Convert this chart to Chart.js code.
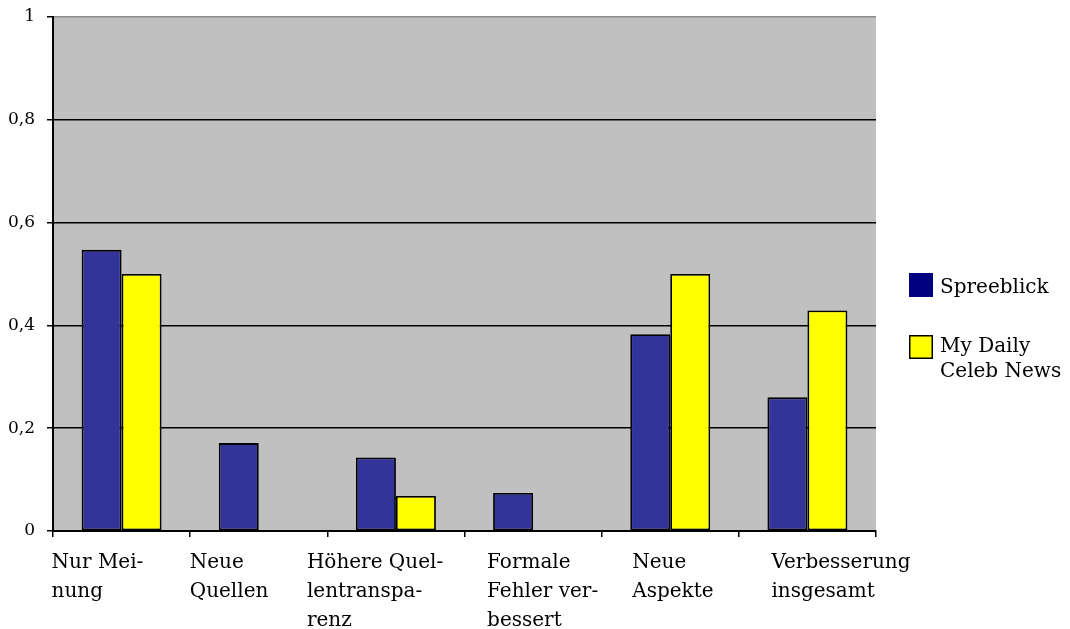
<!DOCTYPE html>
<html>
<head>
<meta charset="utf-8">
<script src="https://cdn.jsdelivr.net/npm/chart.js@4/dist/chart.umd.min.js"></script>
<style>
  html, body { margin: 0; padding: 0; background: #ffffff; }
  #wrap { position: relative; width: 1070px; height: 629px; }
</style>
</head>
<body>
<div id="wrap"><canvas id="chart"></canvas></div>
<script>
// Categories (line breaks as hyphenated in the labels)
const categories = [
  ['Nur Mei-', 'nung'],
  ['Neue', 'Quellen'],
  ['Höhere Quel-', 'lentranspa-', 'renz'],
  ['Formale', 'Fehler ver-', 'bessert'],
  ['Neue', 'Aspekte'],
  ['Verbesserung', 'insgesamt']
];

const seriesNames = ['Spreeblick', 'My Daily Celeb News'];

const spreeblick = [0.547, 0.171, 0.143, 0.074, 0.383, 0.26];
const myDailyCelebNews = [0.5, 0, 0.068, 0, 0.5, 0.429];

const yTickLabels = ['0', '0,2', '0,4', '0,6', '0,8', '1'];

const FONT = '"DejaVu Serif", "Liberation Serif", serif';

// Gray plot background
const plotBackground = {
  id: 'plotBackground',
  beforeDraw(chart) {
    const { ctx, chartArea: a } = chart;
    ctx.save();
    ctx.fillStyle = '#C0C0C0';
    ctx.fillRect(a.left, a.top, a.right - a.left, a.bottom - a.top);
    ctx.restore();
  }
};

// Multi-line category labels, left aligned under each group
const labelShift = [-70, -69, -89, -46, -38, -36];
const categoryLabels = {
  id: 'categoryLabels',
  afterDraw(chart) {
    const { ctx } = chart;
    const xs = chart.scales.x;
    const top = chart.chartArea.bottom;
    ctx.save();
    ctx.font = '20px ' + FONT;
    ctx.fillStyle = '#000';
    ctx.textAlign = 'left';
    ctx.textBaseline = 'alphabetic';
    chart.data.labels.forEach((lines, i) => {
      const x = xs.getPixelForValue(i) + labelShift[i];
      lines.forEach((line, k) => {
        ctx.fillText(line, x, top + 37 + k * 29);
      });
    });
    ctx.restore();
  }
};

// Legend on the right, with wrapped labels
const sideLegend = {
  id: 'sideLegend',
  afterDraw(chart) {
    const { ctx } = chart;
    const x0 = chart.chartArea.right + 33;
    const tops = [273, 335];
    const swatch = ['#000080', '#FFFF00'];
    ctx.save();
    ctx.font = '20px ' + FONT;
    ctx.textAlign = 'left';
    ctx.textBaseline = 'alphabetic';
    chart.data.datasets.forEach((ds, i) => {
      const y = tops[i];
      ctx.fillStyle = swatch[i];
      ctx.fillRect(x0, y, 24, 24);
      if (i === 1) {
        ctx.strokeStyle = '#000';
        ctx.lineWidth = 1.5;
        ctx.strokeRect(x0 + 0.75, y + 0.75, 22.5, 22.5);
      }
      // word wrap
      const words = ds.label.split(' ');
      const lines = [];
      let cur = '';
      words.forEach(w => {
        const t = cur ? cur + ' ' + w : w;
        if (ctx.measureText(t).width > 128 && cur) { lines.push(cur); cur = w; }
        else cur = t;
      });
      lines.push(cur);
      ctx.fillStyle = '#000';
      const base = lines.length > 1 ? y + 17 : y + 20;
      lines.forEach((l, k) => ctx.fillText(l, x0 + 31, base + k * 25));
    });
    ctx.restore();
  }
};

new Chart(document.getElementById('chart'), {
  type: 'bar',
  data: {
    labels: categories,
    datasets: [
      {
        label: seriesNames[0],
        data: spreeblick,
        backgroundColor: '#333399',
        borderColor: '#000',
        borderWidth: 1.8,
        borderSkipped: false
      },
      {
        label: seriesNames[1],
        data: myDailyCelebNews,
        backgroundColor: '#FFFF00',
        borderColor: '#000',
        borderWidth: 1.8,
        borderSkipped: false
      }
    ]
  },
  options: {
    responsive: true,
    maintainAspectRatio: false,
    animation: false,
    devicePixelRatio: 1,
    categoryPercentage: 0.583,
    barPercentage: 1,
    layout: { padding: { top: 17, right: 194, left: 0, bottom: 0 } },
    plugins: {
      legend: { display: false },
      tooltip: { enabled: false }
    },
    scales: {
      x: {
        grid: {
          offset: true,
          drawOnChartArea: false,
          color: '#000',
          tickLength: 6,
          lineWidth: 1.5
        },
        border: { color: '#000', width: 2 },
        ticks: { display: false },
        afterFit(scale) { scale.height = 98; }
      },
      y: {
        min: 0,
        max: 1,
        ticks: {
          stepSize: 0.2,
          padding: 12,
          color: '#000',
          font: { family: FONT, size: 17 },
          callback: (v, i) => yTickLabels[i]
        },
        grid: {
          color: ctx => (ctx.index === 5 ? '#8c8c8c' : '#000'),
          tickColor: '#000',
          lineWidth: 1.5,
          tickLength: 6
        },
        border: { color: '#000', width: 2 },
        afterFit(scale) {
          scale.width = 53;
          scale.paddingTop = 0;
          scale.paddingBottom = 0;
        }
      }
    }
  },
  plugins: [plotBackground, categoryLabels, sideLegend]
});
</script>
</body>
</html>
